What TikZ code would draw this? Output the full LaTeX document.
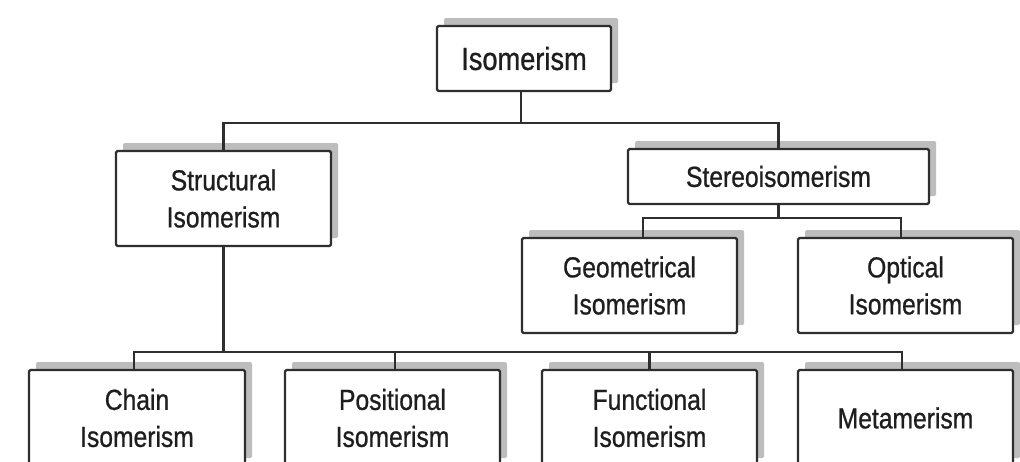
\documentclass[tikz,border=0pt]{standalone}
\usepackage{fontspec}
\setmainfont[FakeStretch=0.85,FakeBold=0.8]{Liberation Sans}
\usetikzlibrary{shadows}
\definecolor{edgec}{HTML}{2E2E2E}
\definecolor{shadowc}{HTML}{BDBDBD}
\definecolor{textc}{HTML}{1E1E1E}
\tikzset{
  box/.style={draw=edgec, fill=white, line width=2.2pt, rounded corners=1.5pt,
    inner sep=0pt, align=center, text=textc,
    font=\fontsize{29}{37}\selectfont,
    general shadow={fill=shadowc, shadow xshift=7pt, shadow yshift=8pt}},
  link/.style={draw=edgec, line width=2.2pt}
}
\begin{document}
\begin{tikzpicture}[x=1pt,y=-1pt]
\useasboundingbox (0,0) rectangle (1020,461);
\clip (0,0) rectangle (1020,461);
\fill[white] (0,0) rectangle (1020,461);
% nodes
\node[box, minimum width=174pt, minimum height=65pt, font=\fontsize{32}{37}\selectfont] (iso) at (524,58.5) {Isomerism};
\node[box, minimum width=215pt, minimum height=95pt] (struct) at (223.5,198.5) {Structural\\Isomerism};
\node[box, minimum width=301pt, minimum height=55pt] (stereo) at (778.5,176.5) {Stereoisomerism};
\node[box, minimum width=215pt, minimum height=95pt] (geom) at (629.5,285.5) {Geometrical\\Isomerism};
\node[box, minimum width=215pt, minimum height=95pt] (opt) at (905.5,285.5) {Optical\\Isomerism};
\node[box, minimum width=216pt, minimum height=96pt] (chain) at (137,418) {Chain\\Isomerism};
\node[box, minimum width=215pt, minimum height=96pt] (pos) at (392.5,418) {Positional\\Isomerism};
\node[box, minimum width=215pt, minimum height=96pt] (func) at (649.5,418) {Functional\\Isomerism};
\node[box, minimum width=215pt, minimum height=96pt] (meta) at (905.5,418) {Metamerism};
% bar coordinates
\coordinate (b1) at (521,123);
\coordinate (b2) at (778.5,218);
\coordinate (b3) at (223.5,352);
% connectors
\draw[link] ([xshift=-3pt]iso.south) -- (b1);
\draw[link] (struct.north) |- (b1) -| (stereo.north);
\draw[link] (stereo.south) -- (b2);
\draw[link] ([xshift=13.5pt]geom.north) |- (b2) -| ([xshift=-4.5pt]opt.north);
\draw[link] (struct.south) -- (b3);
\draw[link] ([xshift=-3pt]chain.north) |- (b3) -| ([xshift=-3.5pt]meta.north);
\draw[link] ([xshift=2.5pt]pos.north) -- ([xshift=2.5pt]pos.north |- b3);
\draw[link] (func.north) -- (func.north |- b3);
\end{tikzpicture}
\end{document}
